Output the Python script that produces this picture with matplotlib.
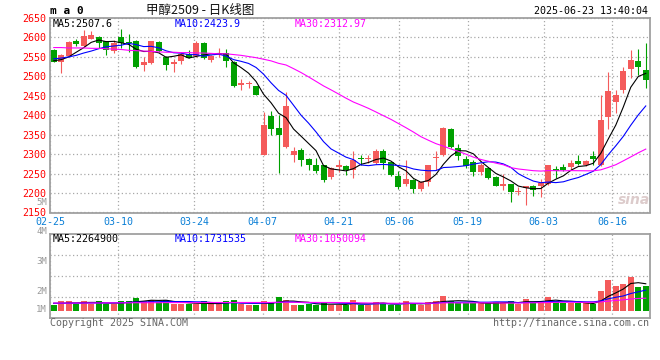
import matplotlib
matplotlib.use("Agg")
import matplotlib.pyplot as plt
import numpy as np

# ---------------- data ----------------
tick_labels = ["02-25", "03-10", "03-24", "04-07", "04-21", "05-06", "05-19", "06-03", "06-16"]
tick_index = [0, 9, 19, 28, 38, 46, 55, 65, 74]

opens = [2569, 2536, 2553, 2590, 2579, 2597, 2602, 2590, 2566, 2600,
         2588, 2591, 2528, 2534, 2589, 2551, 2532, 2540, 2558, 2553,
         2586, 2543, 2556, 2559, 2538, 2479, 2480, 2474, 2297, 2398,
         2366, 2318, 2299, 2311, 2288, 2272, 2271, 2240, 2266, 2269,
         2258, 2290, 2287, 2278, 2309, 2279, 2243, 2222, 2234, 2210,
         2228, 2289, 2297, 2364, 2315, 2288, 2280, 2253, 2265, 2241,
         2217, 2222, 2203, 2212, 2219, 2217, 2224, 2263, 2268, 2267,
         2282, 2272, 2295, 2272, 2395, 2435, 2466, 2520, 2540, 2517]
highs = [2571, 2557, 2590, 2596, 2620, 2617, 2604, 2592, 2593, 2621,
         2608, 2593, 2549, 2592, 2591, 2553, 2545, 2562, 2568, 2592,
         2588, 2556, 2574, 2570, 2540, 2493, 2489, 2476, 2408, 2411,
         2400, 2461, 2319, 2317, 2291, 2290, 2272, 2267, 2284, 2273,
         2308, 2299, 2299, 2312, 2312, 2282, 2256, 2286, 2236, 2230,
         2273, 2308, 2371, 2366, 2325, 2295, 2284, 2278, 2268, 2243,
         2250, 2224, 2216, 2219, 2220, 2237, 2273, 2269, 2275, 2286,
         2297, 2286, 2307, 2453, 2510, 2464, 2525, 2569, 2570, 2587]
lows = [2536, 2508, 2550, 2579, 2576, 2595, 2574, 2555, 2560, 2574,
        2562, 2521, 2515, 2531, 2563, 2517, 2512, 2532, 2546, 2550,
        2545, 2536, 2549, 2525, 2473, 2465, 2471, 2451, 2297, 2350,
        2251, 2316, 2280, 2270, 2259, 2251, 2229, 2236, 2255, 2247,
        2239, 2273, 2278, 2275, 2263, 2245, 2210, 2217, 2200, 2205,
        2217, 2260, 2296, 2315, 2286, 2265, 2245, 2247, 2236, 2217,
        2209, 2178, 2196, 2170, 2193, 2189, 2220, 2239, 2256, 2260,
        2271, 2269, 2273, 2270, 2365, 2405, 2457, 2495, 2504, 2469]
closes = [2538, 2555, 2589, 2583, 2604, 2606, 2585, 2568, 2587, 2585,
          2586, 2523, 2538, 2590, 2566, 2528, 2536, 2557, 2548, 2587,
          2546, 2553, 2560, 2540, 2475, 2484, 2482, 2453, 2376, 2365,
          2350, 2425, 2307, 2284, 2272, 2257, 2233, 2265, 2271, 2259,
          2286, 2288, 2289, 2309, 2278, 2247, 2215, 2237, 2211, 2228,
          2271, 2292, 2368, 2318, 2295, 2269, 2254, 2271, 2239, 2219,
          2224, 2203, 2205, 2217, 2207, 2226, 2272, 2256, 2260, 2278,
          2275, 2282, 2288, 2387, 2463, 2453, 2514, 2543, 2525, 2490]

ma5 = [2540, 2543, 2550, 2562, 2573.8, 2587.4, 2593.4, 2589.2, 2590.0, 2586.2,
       2582.2, 2569.8, 2563.8, 2564.4, 2560.6, 2549.0, 2551.6, 2555.4, 2547.0, 2551.2,
       2554.8, 2558.2, 2558.8, 2557.2, 2534.8, 2522.4, 2508.2, 2486.8, 2454.0, 2432.0,
       2405.2, 2393.8, 2364.6, 2346.2, 2327.6, 2309.0, 2270.6, 2262.2, 2259.6, 2257.0,
       2262.8, 2273.8, 2278.6, 2286.2, 2290.0, 2282.2, 2267.6, 2257.2, 2237.6, 2227.6,
       2232.4, 2247.8, 2274.0, 2295.4, 2308.8, 2308.4, 2300.8, 2281.4, 2265.6, 2250.4,
       2241.4, 2231.2, 2218.0, 2213.6, 2211.2, 2211.6, 2225.4, 2235.6, 2244.2, 2258.4,
       2268.2, 2270.2, 2276.6, 2302.0, 2339.0, 2374.6, 2421.0, 2472.0, 2499.6, 2507.6]
ma10 = [2545, 2547, 2550, 2554, 2560, 2565, 2571, 2576, 2578, 2580.0,
        2584.8, 2581.6, 2576.5, 2577.2, 2573.4, 2565.6, 2560.7, 2559.6, 2555.7, 2555.9,
        2551.9, 2554.9, 2557.1, 2552.1, 2543.0, 2538.6, 2533.2, 2522.8, 2505.6, 2483.4,
        2463.8, 2451.0, 2425.7, 2400.1, 2379.8, 2357.1, 2332.2, 2313.4, 2302.9, 2292.3,
        2285.9, 2272.2, 2270.4, 2272.9, 2273.5, 2272.5, 2270.7, 2267.9, 2261.9, 2258.8,
        2257.3, 2257.7, 2265.6, 2266.5, 2268.2, 2270.4, 2274.3, 2277.7, 2280.5, 2279.6,
        2274.9, 2266.0, 2249.7, 2239.6, 2230.8, 2226.5, 2228.3, 2226.8, 2228.9, 2234.8,
        2239.9, 2247.8, 2256.1, 2273.1, 2298.7, 2321.4, 2345.6, 2374.3, 2400.8, 2423.9]
ma30 = [2574, 2574, 2573, 2573, 2573, 2572, 2572, 2571, 2570, 2569,
        2567, 2566, 2565, 2564, 2563, 2562, 2562, 2561, 2561, 2560,
        2560, 2559, 2558, 2558, 2556, 2554, 2551, 2548, 2544, 2539.8,
        2533.5, 2529.2, 2519.8, 2509.8, 2498.7, 2487.1, 2475.4, 2465.3, 2454.7, 2443.9,
        2433.9, 2426.0, 2417.7, 2408.4, 2398.8, 2389.4, 2378.7, 2368.0, 2356.8, 2344.8,
        2335.7, 2327.0, 2320.6, 2313.2, 2307.2, 2300.0, 2292.4, 2286.3, 2281.8, 2276.9,
        2272.7, 2265.3, 2261.9, 2259.7, 2257.5, 2256.5, 2257.8, 2257.5, 2257.1, 2257.7,
        2257.4, 2257.2, 2257.1, 2259.7, 2265.9, 2272.8, 2282.7, 2292.9, 2303.4, 2312.97]

# volume in millions of lots
volume_m = [0.48, 0.81, 0.81, 0.53, 0.81, 0.53, 0.81, 0.53, 0.53, 0.81,
            0.81, 1.06, 0.81, 0.90, 0.73, 0.90, 0.56, 0.56, 0.56, 0.56,
            0.81, 0.53, 0.53, 0.81, 0.90, 0.56, 0.48, 0.48, 0.81, 0.73,
            1.12, 0.90, 0.48, 0.48, 0.56, 0.48, 0.73, 0.48, 0.48, 0.48,
            0.90, 0.48, 0.48, 0.76, 0.62, 0.48, 0.48, 0.81, 0.62, 0.48,
            0.73, 0.81, 1.23, 0.81, 0.62, 0.62, 0.62, 0.62, 0.62, 0.73,
            0.73, 0.81, 0.53, 0.98, 0.73, 0.81, 1.12, 0.81, 0.62, 0.62,
            0.62, 0.62, 0.53, 1.68, 2.58, 2.07, 2.24, 2.86, 2.02, 2.10]
vol_ma5 = [0.62, 0.62, 0.65, 0.66, 0.688, 0.698, 0.698, 0.642, 0.642, 0.642,
           0.698, 0.748, 0.804, 0.878, 0.862, 0.880, 0.780, 0.730, 0.662, 0.628,
           0.610, 0.604, 0.598, 0.648, 0.716, 0.666, 0.656, 0.646, 0.646, 0.612,
           0.724, 0.808, 0.808, 0.742, 0.708, 0.580, 0.546, 0.546, 0.546, 0.530,
           0.614, 0.564, 0.564, 0.620, 0.648, 0.564, 0.564, 0.630, 0.602, 0.574,
           0.624, 0.690, 0.774, 0.812, 0.840, 0.818, 0.780, 0.658, 0.620, 0.642,
           0.664, 0.702, 0.684, 0.756, 0.756, 0.772, 0.834, 0.890, 0.818, 0.796,
           0.758, 0.658, 0.602, 0.814, 1.206, 1.496, 1.820, 2.286, 2.354, 2.2649]
vol_ma10 = [0.62, 0.62, 0.63, 0.63, 0.64, 0.64, 0.65, 0.65, 0.66, 0.665,
            0.698, 0.723, 0.723, 0.760, 0.752, 0.789, 0.764, 0.767, 0.770, 0.745,
            0.745, 0.692, 0.664, 0.655, 0.672, 0.638, 0.630, 0.622, 0.647, 0.664,
            0.695, 0.732, 0.727, 0.694, 0.660, 0.652, 0.677, 0.677, 0.644, 0.619,
            0.597, 0.555, 0.555, 0.583, 0.589, 0.589, 0.564, 0.597, 0.611, 0.611,
            0.594, 0.627, 0.702, 0.707, 0.707, 0.721, 0.735, 0.716, 0.716, 0.741,
            0.741, 0.741, 0.671, 0.688, 0.699, 0.718, 0.768, 0.787, 0.787, 0.776,
            0.765, 0.746, 0.746, 0.816, 1.001, 1.127, 1.239, 1.444, 1.584, 1.731535]
vol_ma30 = [0.64, 0.64, 0.64, 0.65, 0.65, 0.65, 0.65, 0.66, 0.66, 0.66,
            0.66, 0.67, 0.67, 0.67, 0.67, 0.68, 0.68, 0.68, 0.68, 0.68,
            0.68, 0.69, 0.69, 0.69, 0.69, 0.69, 0.69, 0.69, 0.69, 0.691,
            0.713, 0.716, 0.705, 0.703, 0.695, 0.693, 0.690, 0.689, 0.687, 0.676,
            0.679, 0.660, 0.649, 0.644, 0.640, 0.626, 0.624, 0.632, 0.634, 0.631,
            0.629, 0.638, 0.661, 0.661, 0.652, 0.654, 0.659, 0.663, 0.657, 0.657,
            0.644, 0.641, 0.643, 0.659, 0.665, 0.676, 0.689, 0.700, 0.705, 0.709,
            0.700, 0.705, 0.706, 0.737, 0.802, 0.855, 0.914, 0.982, 1.029, 1.050094]

price_legend = ["MA5:2507.6", "MA10:2423.9", "MA30:2312.97"]
volume_legend = ["MA5:2264900", "MA10:1731535", "MA30:1050094"]
volume_axis_labels = ["5M", "4M", "3M", "2M", "1M"]
price_ticks = [2150, 2200, 2250, 2300, 2350, 2400, 2450, 2500, 2550, 2600, 2650]

# ---------------- styling ----------------
RED = "#f45b5b"
GREEN = "#00a000"
GRID = "#a8a8a8"
FRAME = "#a0a0a0"
MONO = "DejaVu Sans Mono"
FS = 7.2

W, H = 660, 360
fig = plt.figure(figsize=(W / 100, H / 100), dpi=100)
fig.patch.set_facecolor("white")


def fx(px):
    return px / W


def fy(py):
    return 1 - py / H


X0, X1 = 50, 649.5
ax = fig.add_axes([fx(X0), fy(212.5), (X1 - X0) / W, (212.5 - 18) / H])
axv = fig.add_axes([fx(X0), fy(318.3), (X1 - X0) / W, (318.3 - 234.3) / H])

O = np.array(opens, float)
Hh = np.array(highs, float)
L = np.array(lows, float)
C = np.array(closes, float)
n = len(C)
x = np.arange(n)
up = C >= O
cols = np.where(up, RED, GREEN)

# candles
ax.vlines(x, L, Hh, colors=cols, linewidth=0.8, zorder=3)
body_h = np.abs(C - O)
mid = (C + O) / 2
bh = np.maximum(body_h, 2.6)
ax.bar(x, bh, bottom=mid - bh / 2, width=0.8, color=cols, linewidth=0, zorder=4)

ax.plot(x, ma5, color="black", lw=0.8, zorder=5)
ax.plot(x, ma10, color="#0000ff", lw=0.8, zorder=5)
ax.plot(x, ma30, color="#ff00ff", lw=0.8, zorder=5)

ax.set_xlim(-0.5, n - 0.5)
ax.set_ylim(2150, 2650)

tick_pos = np.array(tick_index) * 1.0133 - 0.5
dotted = (0, (1, 2))

for a in (ax, axv):
    a.set_xticks(tick_pos)
    a.tick_params(axis="both", length=0)
    a.grid(True, color=GRID, linestyle=dotted, linewidth=0.9)
    a.set_axisbelow(True)
    for s in a.spines.values():
        s.set_color(FRAME)
        s.set_linewidth(1.3)

ax.set_xticklabels(tick_labels, fontfamily=MONO, fontsize=FS, color="#0a7fd6")
ax.tick_params(axis="x", pad=3.5)
ax.set_yticks(price_ticks)
ax.set_yticklabels([str(v) for v in price_ticks], fontfamily=MONO, fontsize=FS, color="#ff0000")
ax.tick_params(axis="y", pad=2.5)

# volume panel
V = np.array(volume_m)
axv.bar(x, V, width=0.8, color=cols, linewidth=0, zorder=3)
axv.plot(x, vol_ma5, color="black", lw=0.8, zorder=4)
axv.plot(x, vol_ma10, color="#0000ff", lw=0.8, zorder=4)
axv.plot(x, vol_ma30, color="#ff00ff", lw=0.8, zorder=4)
axv.set_xlim(-0.5, n - 0.5)
vb, vt = -(318.3 - 310.7) / 11.9, (310.7 - 234.3) / 11.9
axv.set_ylim(vb, vt)
axv.set_yticks([vb + (vt - vb) * q for q in (0.25, 0.5, 0.75)])
axv.set_yticklabels([])
axv.set_xticklabels([])

# volume axis labels (placed where the reference draws them)
for lab, py in zip(volume_axis_labels, [202.5, 231, 261, 291, 310]):
    fig.text(fx(47), fy(py), lab, ha="right", va="center", fontfamily=MONO,
             fontsize=6.5, color="#999999")

# legends
leg_cols = ["black", "#0000ff", "#ff00ff"]
for txt, px, c in zip(price_legend, [53, 175, 295], leg_cols):
    fig.text(fx(px), fy(24), txt, ha="left", va="center", fontfamily=MONO, fontsize=FS, color=c)
for txt, px, c in zip(volume_legend, [53, 175, 295], leg_cols):
    fig.text(fx(px), fy(238.5), txt, ha="left", va="center", fontfamily=MONO, fontsize=FS, color=c)

# header texts
fig.text(fx(50), fy(11), "m a 0", ha="left", va="center", fontfamily=MONO,
         fontsize=8, fontweight="bold", color="black")
fig.text(fx(200), fy(10.5), "甲醇2509 - 日K线图", ha="center", va="center",
         family=["Noto Sans CJK SC", "DejaVu Sans"], fontsize=9, color="#111111")
fig.text(fx(648), fy(11.5), "2025-06-23 13:40:04", ha="right", va="center",
         fontfamily=MONO, fontsize=FS, color="black")

# footer texts
fig.text(fx(50), fy(323.5), "Copyright 2025 SINA.COM", ha="left", va="center",
         fontfamily=MONO, fontsize=FS, color="#666666")
fig.text(fx(649), fy(323.5), "http://finance.sina.com.cn", ha="right", va="center",
         fontfamily=MONO, fontsize=FS, color="#666666")

# watermark
fig.text(fx(634), fy(200), "sina", ha="center", va="center", fontsize=10,
         fontstyle="italic", fontweight="bold", color="#d9c6c6", alpha=0.9)

fig.savefig("out.png", dpi=100)
